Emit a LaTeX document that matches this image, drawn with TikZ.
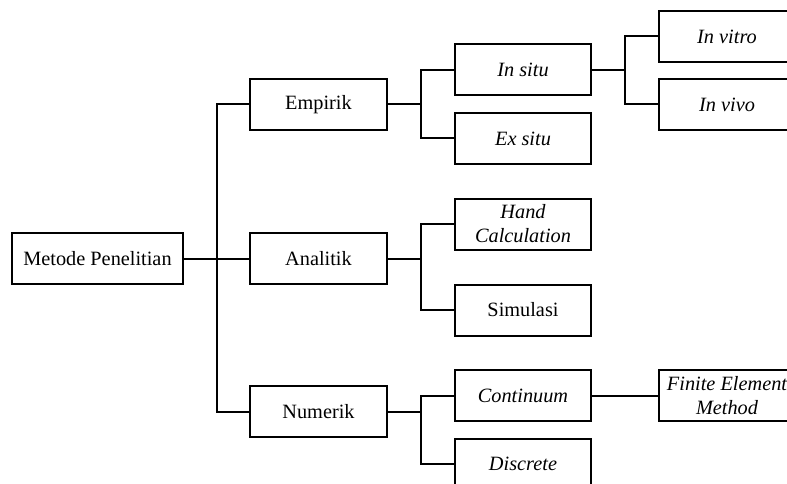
\documentclass[tikz,border=0pt]{standalone}
\usepackage{fontspec}
\setmainfont{Liberation Serif}
\begin{document}
\begin{tikzpicture}[x=1pt,y=-1pt,
  box/.style={draw,line width=2pt,minimum width=136pt,minimum height=51pt,inner sep=1pt,align=center,
    font=\fontsize{20.3}{24}\selectfont},
  wire/.style={line width=2pt}]
\useasboundingbox (0,0) rectangle (787,484);
\clip (0,0) rectangle (787,484);
\node[box,minimum width=171pt] (mp) at (97.5,258.5) {Metode Penelitian};
\node[box,minimum width=137pt] (emp) at (318.5,104.5) {Empirik};
\node[box,minimum width=137pt] (ana) at (318.5,258.5) {Analitik};
\node[box,minimum width=137pt] (num) at (318.5,411.5) {Numerik};
\node[box] (insitu) at (523,70) {\itshape In situ};
\node[box] (exsitu) at (523,138.5) {\itshape Ex situ};
\node[box] (hand) at (523,224) {\itshape Hand\\\itshape Calculation};
\node[box] (sim) at (523,310) {Simulasi};
\node[box] (cont) at (523,395.5) {\itshape Continuum};
\node[box] (disc) at (523,464) {\itshape Discrete};
\node[box] (vitro) at (727,36.5) {\itshape In vitro};
\node[box] (vivo) at (727,104.5) {\itshape In vivo};
\node[box] (fem) at (727,395.5) {\itshape Finite Element\\\itshape Method};
\coordinate (j1) at (217,258.5);
\coordinate (j2) at (421,104.5);
\coordinate (j3) at (421,258.5);
\coordinate (j4) at (421,411.5);
\coordinate (j5) at (625,70);
\draw[wire] (mp.east) -- (j1);
\draw[wire] (j1) -- (ana.west);
\draw[wire] (j1) |- (emp.west);
\draw[wire] (j1) |- (num.west);
\draw[wire] (emp.east) -- (j2);
\draw[wire] (j2) |- (insitu.west);
\draw[wire] (j2) |- (exsitu.west);
\draw[wire] (ana.east) -- (j3);
\draw[wire] (j3) |- (hand.west);
\draw[wire] (j3) |- (sim.west);
\draw[wire] (num.east) -- (j4);
\draw[wire] (j4) |- (cont.west);
\draw[wire] (j4) |- (disc.west);
\draw[wire] (insitu.east) -- (j5);
\draw[wire] (j5) |- (vitro.west);
\draw[wire] (j5) |- (vivo.west);
\draw[wire] (cont.east) -- (fem.west);
\end{tikzpicture}
\end{document}
